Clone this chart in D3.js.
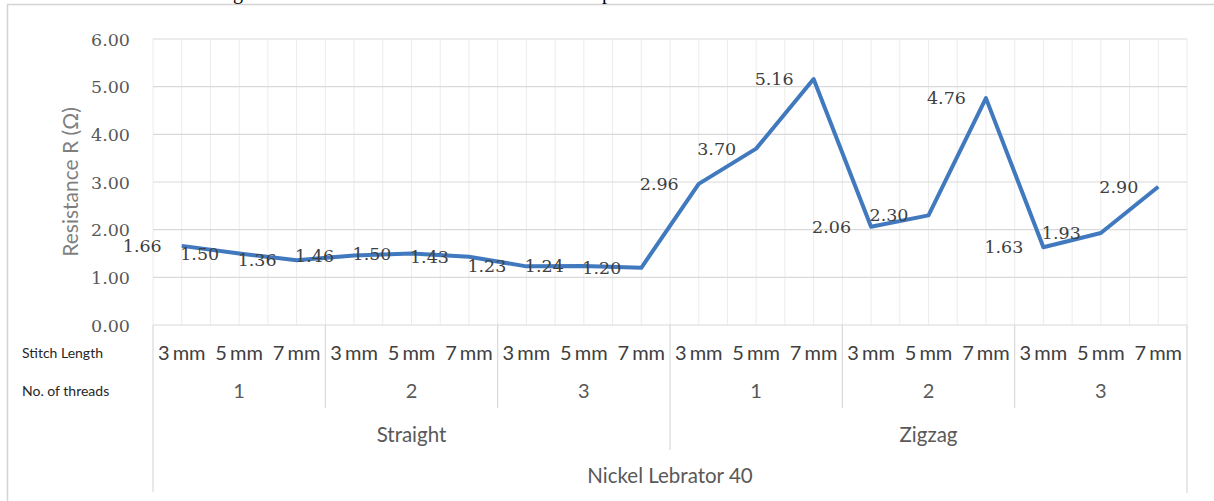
<!DOCTYPE html>
<html>
<head>
<meta charset="utf-8">
<script src="https://cdn.jsdelivr.net/npm/d3@7"></script>
<style>
  html, body { margin: 0; padding: 0; background: #ffffff; }
  svg { display: block; }
</style>
</head>
<body>
<svg id="chart" width="1214" height="501"></svg>
<script>
// ---- data ----
const stitchLengths = ["3 mm", "5 mm", "7 mm"];
const threadCounts = ["1", "2", "3"];
const stitchTypes = ["Straight", "Zigzag"];
const material = "Nickel Lebrator 40";
const resistance = [1.66, 1.50, 1.36, 1.46, 1.50, 1.43, 1.23, 1.24, 1.20,
                    2.96, 3.70, 5.16, 2.06, 2.30, 4.76, 1.63, 1.93, 2.90];
const yTicks = [0, 1, 2, 3, 4, 5, 6];
const yTitle = "Resistance R (Ω)";
const rowTitles = ["Stitch Length", "No. of threads"];

(function () {
// ---- layout ----
const svg = d3.select("#chart");
const pL = 153, pR = 1187, pT = 39, pB = 325;
const nCat = resistance.length;

const x = d3.scaleBand().domain(d3.range(nCat)).range([pL, pR]).padding(0);
const y = d3.scaleLinear().domain([0, 6]).range([pB, pT]);
const bw = x.bandwidth();

// outer frame (only top/left visible as in reference)
svg.append("rect").attr("x", 7.5).attr("y", 4.5).attr("width", 1230).attr("height", 540)
  .attr("fill", "none").attr("stroke", "#d4d4d4").attr("stroke-width", 1.5);

// cropped caption fragments at top
svg.append("text").attr("x", 233).attr("y", -1).attr("font-family", "Liberation Serif")
  .attr("font-size", 20).attr("fill", "#000").text("g");
svg.append("text").attr("x", 602).attr("y", -1).attr("font-family", "Liberation Serif")
  .attr("font-size", 20).attr("fill", "#000").text("p");

// vertical gridlines at category boundaries and centers
const vLines = [];
for (let i = 0; i < nCat; i++) { vLines.push(x(i)); vLines.push(x(i) + bw / 2); }
vLines.push(pR);
svg.append("g").selectAll("line").data(vLines).join("line")
  .attr("x1", d => d).attr("x2", d => d).attr("y1", pT).attr("y2", pB)
  .attr("stroke", "#ececec").attr("stroke-width", 1);

// horizontal gridlines
svg.append("g").selectAll("line").data(yTicks).join("line")
  .attr("x1", pL).attr("x2", pR).attr("y1", d => y(d)).attr("y2", d => y(d))
  .attr("stroke", "#d9d9d9").attr("stroke-width", 1.2);

// y axis labels
const yAxis = d3.axisLeft(y).tickValues(yTicks).tickFormat(d3.format(".2f")).tickSize(0).tickPadding(0);
const yg = svg.append("g").attr("transform", `translate(${130},0)`).call(yAxis);
yg.select(".domain").remove();
yg.selectAll("text").attr("font-family", "DejaVu Serif").attr("font-size", 17.5)
  .attr("fill", "#595959").attr("dy", "0.35em");

// y axis title
svg.append("text").attr("transform", `translate(78,${(pT + pB) / 2}) rotate(-90)`)
  .attr("text-anchor", "middle").attr("font-family", "Lato, 'Open Sans', sans-serif")
  .attr("font-size", 21).attr("fill", "#7f7f7f").text(yTitle);

// multi-level category axis
const rowY = [353, 391, 435, 476];
const catFont = "Lato, 'Open Sans', sans-serif";
svg.append("g").selectAll("text").data(d3.range(nCat)).join("text")
  .attr("x", i => x(i) + bw / 2).attr("y", rowY[0]).attr("dy", "0.35em")
  .attr("text-anchor", "middle").attr("font-family", catFont).attr("font-size", 20)
  .attr("word-spacing", -2)
  .attr("fill", "#404040").text(i => stitchLengths[i % 3]);
svg.append("g").selectAll("text").data(d3.range(6)).join("text")
  .attr("x", g => x(g * 3) + bw * 1.5).attr("y", rowY[1]).attr("dy", "0.35em")
  .attr("text-anchor", "middle").attr("font-family", catFont).attr("font-size", 20)
  .attr("fill", "#595959").text(g => threadCounts[g % 3]);
svg.append("g").selectAll("text").data(stitchTypes).join("text")
  .attr("x", (d, k) => x(k * 9) + bw * 4.5).attr("y", rowY[2]).attr("dy", "0.35em")
  .attr("text-anchor", "middle").attr("font-family", catFont).attr("font-size", 20.5)
  .attr("fill", "#595959").text(d => d);
svg.append("text").attr("x", (pL + pR) / 2).attr("y", rowY[3]).attr("dy", "0.35em")
  .attr("text-anchor", "middle").attr("font-family", catFont).attr("font-size", 20.5)
  .attr("fill", "#595959").text(material);
svg.append("g").selectAll("text").data(rowTitles).join("text")
  .attr("x", 22).attr("y", (d, i) => rowY[i]).attr("dy", "0.35em")
  .attr("font-family", catFont).attr("font-size", 14).attr("fill", "#262626").text(d => d);

// separators
const seps = [];
for (let g = 1; g < 6; g++) { if (g !== 3) seps.push({ x: x(g * 3), y2: 408 }); }
seps.push({ x: x(9), y2: 450 });
seps.push({ x: pL, y2: 492 });
seps.push({ x: pR, y2: 493 });
svg.append("g").selectAll("line").data(seps).join("line")
  .attr("x1", d => d.x).attr("x2", d => d.x).attr("y1", pB).attr("y2", d => d.y2)
  .attr("stroke", "#d9d9d9").attr("stroke-width", 1.2);

// data line
const line = d3.line().x((d, i) => x(i) + bw / 2).y(d => y(d));
svg.append("path").datum(resistance).attr("d", line)
  .attr("fill", "none").attr("stroke", "#4179bf").attr("stroke-width", 4)
  .attr("stroke-linejoin", "round");

// data labels (left of points)
svg.append("g").selectAll("text").data(resistance).join("text")
  .attr("x", (d, i) => x(i) + bw / 2 - 20).attr("y", d => y(d)).attr("dy", "0.35em")
  .attr("text-anchor", "end").attr("font-family", "DejaVu Serif").attr("font-size", 17.5)
  .attr("fill", "#404040").text(d => d.toFixed(2));
})();
</script>
</body>
</html>
